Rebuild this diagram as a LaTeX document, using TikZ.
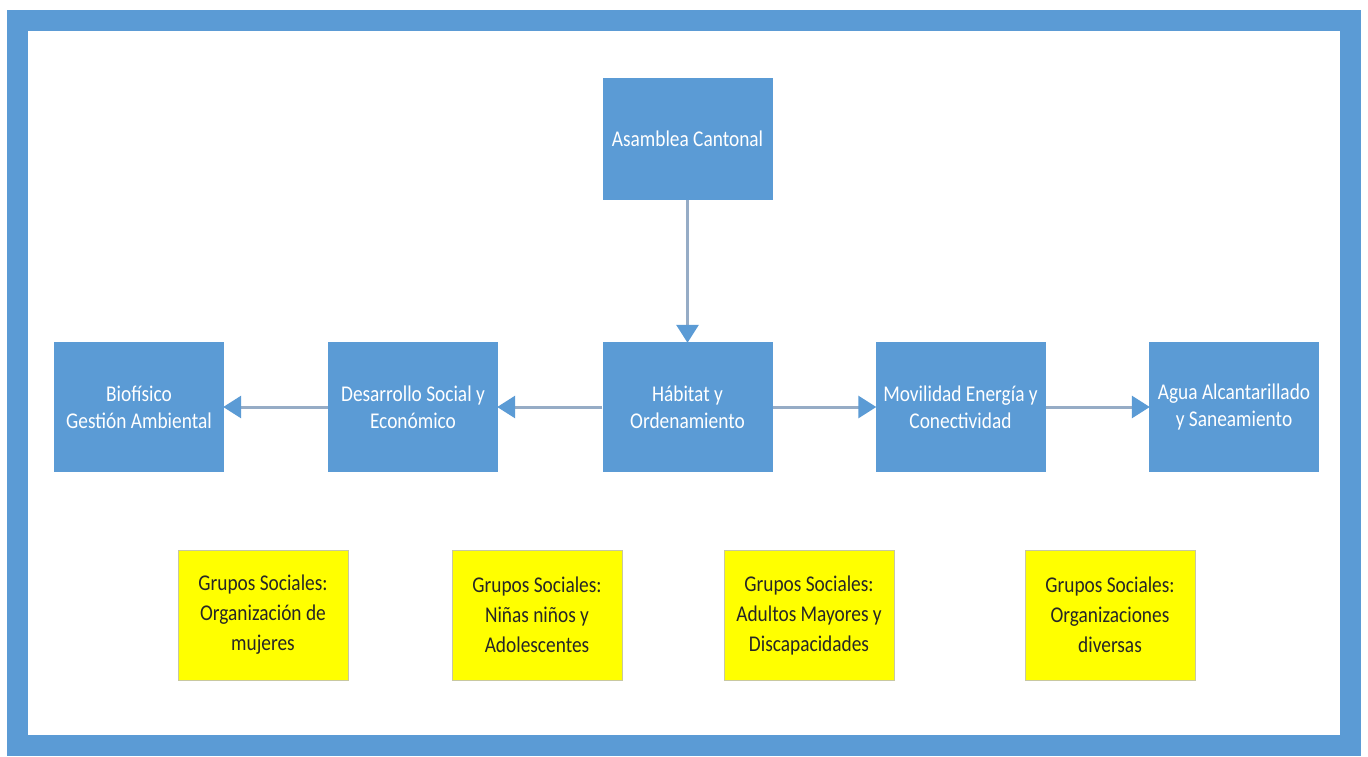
\documentclass[tikz,border=0pt]{standalone}
\usepackage{fontspec}
\setmainfont[FakeStretch=0.86]{Carlito}
\usetikzlibrary{arrows.meta}
\definecolor{boxblue}{RGB}{91,155,213}
\definecolor{linecol}{RGB}{150,172,198}
\definecolor{ybox}{RGB}{255,255,0}
\definecolor{yborder}{RGB}{200,200,160}
\tikzset{
  bluebox/.style={rectangle, fill=boxblue, draw=none, minimum width=170pt, minimum height=130pt,
    text=white, align=center, font=\fontsize{22.5pt}{27pt}\selectfont, inner sep=2pt},
  ybox/.style={rectangle, fill=ybox, draw=yborder, line width=0.8pt, minimum width=170pt, minimum height=130pt,
    text=black!85, align=center, font=\fontsize{22.5pt}{30pt}\selectfont, inner sep=2pt},
  conn/.style={draw=linecol, line width=3pt, -{Triangle[length=18pt,width=22pt,fill=boxblue,color=boxblue]}, shorten >=-1pt}
}
\begin{document}
\begin{tikzpicture}[x=1pt,y=-1pt]
\useasboundingbox (0,0) rectangle (1368,756);
\fill[white] (0,0) rectangle (1368,756);
\draw[boxblue, line width=21pt] (17.5,20.5) rectangle (1350,745);
\node[bluebox, minimum height=122pt] (asam) at (687.5,139) {Asamblea Cantonal};
\node[bluebox] (bio) at (139,407) {Biofísico\\Gestión Ambiental};
\node[bluebox] (des) at (413,407) {Desarrollo Social y\\Económico};
\node[bluebox] (hab) at (687.5,407) {Hábitat y\\Ordenamiento};
\node[bluebox] (mov) at (960.5,407) {Movilidad Energía y\\Conectividad};
\node[bluebox] (agua) at (1234,407) {Agua Alcantarillado\\y Saneamiento};
\node[ybox] (g1) at (263,615) {Grupos Sociales:\\Organización de\\mujeres};
\node[ybox] (g2) at (537,615) {Grupos Sociales:\\Niñas niños y\\Adolescentes};
\node[ybox] (g3) at (809,615) {Grupos Sociales:\\Adultos Mayores y\\Discapacidades};
\node[ybox] (g4) at (1110,615) {Grupos Sociales:\\Organizaciones\\diversas};
\draw[conn] (asam) -- (hab);
\draw[conn] (hab) -- (des);
\draw[conn] (des) -- (bio);
\draw[conn] (hab) -- (mov);
\draw[conn] (mov) -- (agua);
\end{tikzpicture}
\end{document}
